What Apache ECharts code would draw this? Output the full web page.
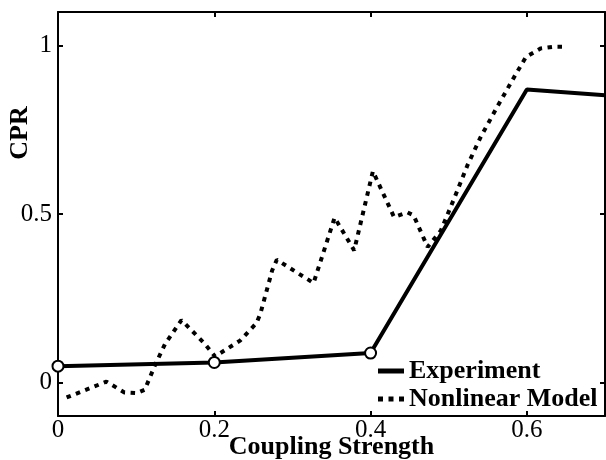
<!DOCTYPE html>
<html>
<head>
<meta charset="utf-8">
<script src="https://cdn.jsdelivr.net/npm/echarts@6/dist/echarts.min.js"></script>
<style>
  html, body { margin: 0; padding: 0; background: #fff; }
  #main { width: 606px; height: 460px; }
</style>
</head>
<body>
<div id="main"></div>
<script>
// experiment (measured) points
var expX = [0, 0.2, 0.4, 0.6, 0.7];
var expY = [0.048, 0.059, 0.087, 0.870, 0.853];

// nonlinear model curve
var modelX = [0.011, 0.062, 0.085, 0.101, 0.111, 0.124, 0.137, 0.158, 0.188, 0.201,
              0.233, 0.254, 0.259, 0.274, 0.280, 0.327, 0.354, 0.379, 0.403, 0.430,
              0.447, 0.455, 0.473, 0.490, 0.507, 0.524, 0.541, 0.562, 0.584, 0.599,
              0.618, 0.635, 0.648];
var modelY = [-0.045, 0.002, -0.030, -0.032, -0.022, 0.050, 0.114, 0.185, 0.114, 0.077,
              0.124, 0.176, 0.204, 0.332, 0.364, 0.295, 0.489, 0.392, 0.627, 0.491,
              0.505, 0.496, 0.402, 0.451, 0.546, 0.645, 0.729, 0.818, 0.908, 0.967,
              0.992, 0.997, 0.997];

var xTicks = [0, 0.2, 0.4, 0.6];
var yTicks = [0, 0.5, 1];

var seriesNames = ['Experiment', 'Nonlinear Model'];

var FONT = 'Liberation Serif';

function pairs(xs, ys) {
    var out = [];
    for (var i = 0; i < xs.length; i++) out.push([xs[i], ys[i]]);
    return out;
}

// fresh objects for every axis, echarts may keep references
function line() {
    return { show: true, onZero: false, lineStyle: { color: '#000', width: 2 } };
}
function tick(vals) {
    return { show: true, inside: true, length: 5, lineStyle: { color: '#000', width: 2 }, customValues: vals };
}

var myChart = echarts.init(document.getElementById('main'));

var option = {
    animation: false,
    backgroundColor: '#fff',
    grid: { left: 58, right: 1, top: 12, bottom: 44, containLabel: false, outerBoundsMode: 'none' },
    xAxis: [{
        type: 'value',
        min: 0, max: 0.7,
        position: 'bottom',
        axisLine: line(),
        axisTick: tick(xTicks),
        splitLine: { show: false },
        axisLabel: {
            customValues: xTicks,
            margin: 2,
            color: '#000',
            fontFamily: FONT,
            fontSize: 25
        },
        name: 'Coupling Strength',
        nameLocation: 'middle',
        nameGap: 18,
        nameMoveOverlap: false,
        nameTextStyle: { color: '#000', fontFamily: FONT, fontSize: 26, fontWeight: 'bold' }
    }, {
        type: 'value',
        min: 0, max: 0.7,
        position: 'top',
        axisLine: line(),
        axisTick: tick(xTicks),
        splitLine: { show: false },
        axisLabel: { show: false }
    }],
    yAxis: [{
        type: 'value',
        min: -0.1, max: 1.1,
        position: 'left',
        axisLine: line(),
        axisTick: tick(yTicks),
        splitLine: { show: false },
        axisLabel: {
            customValues: yTicks,
            margin: 6,
            color: '#000',
            fontFamily: FONT,
            fontSize: 25
        }
    }, {
        type: 'value',
        min: -0.1, max: 1.1,
        position: 'right',
        axisLine: line(),
        axisTick: tick(yTicks),
        splitLine: { show: false },
        axisLabel: { show: false }
    }],
    graphic: [{
        type: 'text',
        x: 20, y: 133,
        rotation: Math.PI / 2,
        style: {
            text: 'CPR',
            fill: '#000',
            font: 'bold 26px "Liberation Serif"',
            align: 'center',
            verticalAlign: 'middle'
        }
    }],
    legend: {
        orient: 'vertical',
        left: 373,
        top: 353,
        itemWidth: 26,
        itemHeight: 5,
        itemGap: 2,
        textStyle: { color: '#000', fontFamily: FONT, fontSize: 26, fontWeight: 'bold' },
        data: [
            { name: seriesNames[0], icon: 'path://M0,0h26v5h-26z' },
            { name: seriesNames[1], icon: 'path://M0,0h5v5h-5z M10.5,0h5v5h-5z M21,0h5v5h-5z' }
        ]
    },
    series: [{
        name: seriesNames[0],
        type: 'line',
        color: '#000',
        data: pairs(expX, expY),
        symbol: function (v, p) { return p.dataIndex < 3 ? 'emptyCircle' : 'none'; },
        symbolSize: 11,
        itemStyle: { color: '#000' },
        lineStyle: { color: '#000', width: 4 },
        z: 3
    }, {
        name: seriesNames[1],
        type: 'line',
        color: '#000',
        data: pairs(modelX, modelY),
        symbol: 'none',
        itemStyle: { color: '#000' },
        lineStyle: { color: '#000', width: 4, type: [4.5, 5.5], cap: 'butt' },
        z: 2
    }]
};

myChart.setOption(option);
</script>
</body>
</html>
